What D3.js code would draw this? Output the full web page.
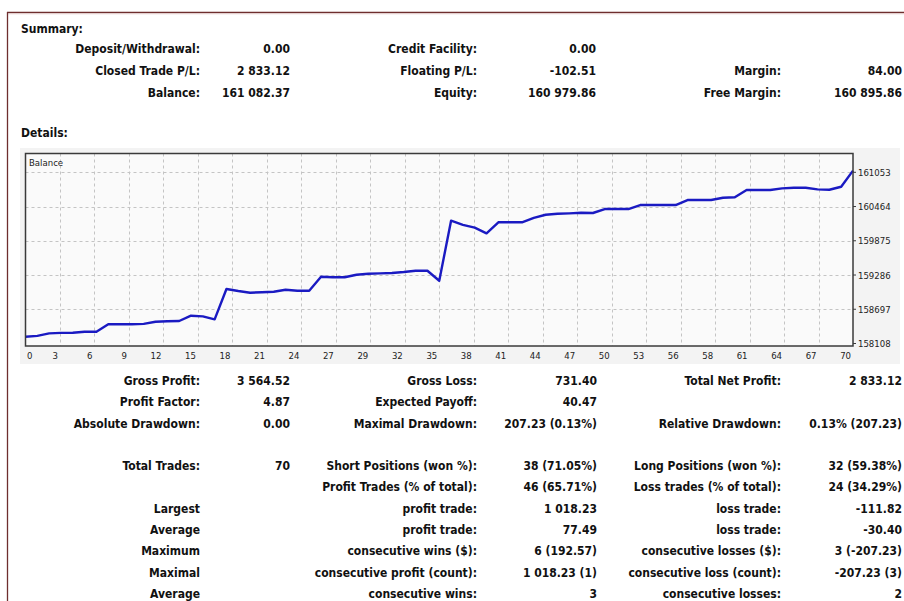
<!DOCTYPE html>
<html>
<head>
<style>
body {margin:0; background:#fff;}
svg {display:block;}
.t {font-family:"DejaVu Sans Condensed","DejaVu Sans",sans-serif; font-weight:bold; font-size:12px; fill:#111;}
.s {font-family:"DejaVu Sans Condensed","DejaVu Sans",sans-serif; font-size:9.5px; fill:#222;}
</style>
</head>
<body>
<div id="report"></div>
<script src="https://d3js.org/d3.v7.min.js"></script>
<script>
// balance after each closed trade (trade 0 = start)
var balance = [158225, 158240, 158283, 158290, 158294, 158311, 158311, 158438, 158438, 158440,
               158445, 158483, 158490, 158495, 158586, 158575, 158524, 159045, 159011, 158982,
               158989, 158999, 159033, 159016, 159016, 159257, 159247, 159247, 159291, 159309,
               159315, 159321, 159338, 159360, 159360, 159188, 160220, 160150, 160100, 160003,
               160193, 160193, 160193, 160270, 160323, 160340, 160347, 160358, 160353, 160421,
               160421, 160421, 160490, 160490, 160490, 160490, 160576, 160576, 160576, 160616,
               160623, 160748, 160748, 160748, 160777, 160788, 160788, 160760, 160753, 160805,
               161082]
var xTickLabels = ["0","3","6","9","12","15","18","21","24","27","29","32","35","38","41","44","47","50","53","56","58","61","64","67","70"]
var yTicks = [158108, 158697, 159286, 159875, 160464, 161053]

// summary block: [label, value] per column
var summaryCol1 = [["Deposit/Withdrawal:", "0.00"], ["Closed Trade P/L:", "2 833.12"], ["Balance:", "161 082.37"]]
var summaryCol2 = [["Credit Facility:", "0.00"], ["Floating P/L:", "-102.51"], ["Equity:", "160 979.86"]]
var summaryCol3 = [["", ""], ["Margin:", "84.00"], ["Free Margin:", "160 895.86"]]

// details block, one array per column
var detailsLabel1 = ["Gross Profit:", "Profit Factor:", "Absolute Drawdown:", "", "Total Trades:", "", "Largest", "Average", "Maximum", "Maximal", "Average"]
var detailsValue1 = ["3 564.52", "4.87", "0.00", "", "70", "", "", "", "", "", ""]
var detailsLabel2 = ["Gross Loss:", "Expected Payoff:", "Maximal Drawdown:", "", "Short Positions (won %):", "Profit Trades (% of total):", "profit trade:", "profit trade:", "consecutive wins ($):", "consecutive profit (count):", "consecutive wins:"]
var detailsValue2 = ["731.40", "40.47", "207.23 (0.13%)", "", "38 (71.05%)", "46 (65.71%)", "1 018.23", "77.49", "6 (192.57)", "1 018.23 (1)", "3"]
var detailsLabel3 = ["Total Net Profit:", "", "Relative Drawdown:", "", "Long Positions (won %):", "Loss trades (% of total):", "loss trade:", "loss trade:", "consecutive losses ($):", "consecutive loss (count):", "consecutive losses:"]
var detailsValue3 = ["2 833.12", "", "0.13% (207.23)", "", "32 (59.38%)", "24 (34.29%)", "-111.82", "-30.40", "3 (-207.23)", "-207.23 (3)", "2"]

var width = 904, height = 601

var svg = d3.select("#report").append("svg")
  .attr("width", width)
  .attr("height", height)

// page frame
svg.append("line").attr("x1", 7).attr("x2", width).attr("y1", 12.5).attr("y2", 12.5).attr("stroke", "#6e2e2e").attr("stroke-width", 1.3)
svg.append("line").attr("x1", 8).attr("x2", width).attr("y1", 13.8).attr("y2", 13.8).attr("stroke", "#e6d2d2")
svg.append("line").attr("x1", 7.5).attr("x2", 7.5).attr("y1", 12).attr("y2", height).attr("stroke", "#6e2e2e").attr("stroke-width", 1.3)

svg.append("text").attr("class", "t").attr("x", 21).attr("y", 33).text("Summary:")
svg.append("text").attr("class", "t").attr("x", 21).attr("y", 137).text("Details:")

function putRows(rows, labelX, valueX, y0, step) {
  rows.forEach(function(r, i) {
    var y = y0 + i * step
    svg.append("text").attr("class", "t").attr("x", labelX).attr("y", y).attr("text-anchor", "end").text(r[0])
    svg.append("text").attr("class", "t").attr("x", valueX).attr("y", y).attr("text-anchor", "end").text(r[1])
  })
}
putRows(summaryCol1, 200, 290, 53, 22)
putRows(summaryCol2, 477, 596, 53, 22)
putRows(summaryCol3, 781, 902, 53, 22)

// details rows (uneven spacing: a gap before Total Trades)
var rowY = [385, 406, 428, 449, 470, 491, 513, 534, 555, 577, 598]
function putCol(arr, x, anchor) {
  arr.forEach(function(s, i) {
    svg.append("text").attr("class", "t").attr("x", x).attr("y", rowY[i]).attr("text-anchor", anchor).text(s)
  })
}
putCol(detailsLabel1, 200, "end")
putCol(detailsValue1, 290, "end")
putCol(detailsLabel2, 477, "end")
putCol(detailsValue2, 597, "end")
putCol(detailsLabel3, 781, "end")
putCol(detailsValue3, 902, "end")

// ---- balance chart ----
var plotL = 25.5, plotR = 853, plotT = 153.5, plotB = 346

svg.append("rect").attr("x", 20).attr("y", 148).attr("width", 880).attr("height", 216).attr("fill", "#f3f3f3")
svg.append("rect").attr("x", plotL).attr("y", plotT).attr("width", plotR - plotL).attr("height", plotB - plotT)
  .attr("fill", "#fafafa")

var x = d3.scaleLinear().domain([0, balance.length - 1]).range([plotL, plotR])
var y = d3.scaleLinear().domain([yTicks[0], yTicks[yTicks.length - 1]]).range([343.5, 172.3])

var gridX = xTickLabels.map(function(d, i) { return i * (balance.length - 1) / (xTickLabels.length - 1) })

svg.selectAll(".gx").data(gridX.slice(1, -1)).enter().append("line")
  .attr("x1", function(d) { return Math.round(x(d)) + 0.5 }).attr("x2", function(d) { return Math.round(x(d)) + 0.5 })
  .attr("y1", plotT).attr("y2", plotB)
  .attr("stroke", "#c4c4c4").attr("stroke-dasharray", "3,3")

svg.selectAll(".gy").data(yTicks.slice(1)).enter().append("line")
  .attr("x1", plotL).attr("x2", plotR)
  .attr("y1", function(d) { return Math.round(y(d)) + 0.5 }).attr("y2", function(d) { return Math.round(y(d)) + 0.5 })
  .attr("stroke", "#c4c4c4").attr("stroke-dasharray", "3,3")

var line = d3.line()
  .x(function(d, i) { return x(i) })
  .y(function(d) { return y(d) })

svg.append("path").datum(balance)
  .attr("d", line)
  .attr("fill", "none")
  .attr("stroke", "#1a1ac2")
  .attr("stroke-width", 2.4)
  .attr("stroke-linejoin", "round")

// frame
svg.append("rect").attr("x", plotL).attr("y", plotT).attr("width", plotR - plotL).attr("height", plotB - plotT)
  .attr("fill", "none").attr("stroke", "#3a3a3a").attr("stroke-width", 1.5)

svg.append("text").attr("class", "s").attr("x", 29).attr("y", 166).text("Balance")

// right axis
svg.selectAll(".yt").data(yTicks).enter().append("line")
  .attr("x1", plotR).attr("x2", plotR + 3)
  .attr("y1", function(d) { return y(d) }).attr("y2", function(d) { return y(d) })
  .attr("stroke", "#3a3a3a")
svg.selectAll(".yl").data(yTicks).enter().append("text")
  .attr("class", "s")
  .attr("x", 858)
  .attr("y", function(d) { return y(d) + 3.5 })
  .text(function(d) { return d })

// bottom axis
svg.selectAll(".xl").data(xTickLabels).enter().append("text")
  .attr("class", "s")
  .attr("x", function(d, i) { return i == 0 ? 27 : x(gridX[i]) - 2 })
  .attr("y", 359)
  .attr("text-anchor", function(d, i) { return i == 0 ? "start" : "end" })
  .text(function(d) { return d })
</script>
</body>
</html>
